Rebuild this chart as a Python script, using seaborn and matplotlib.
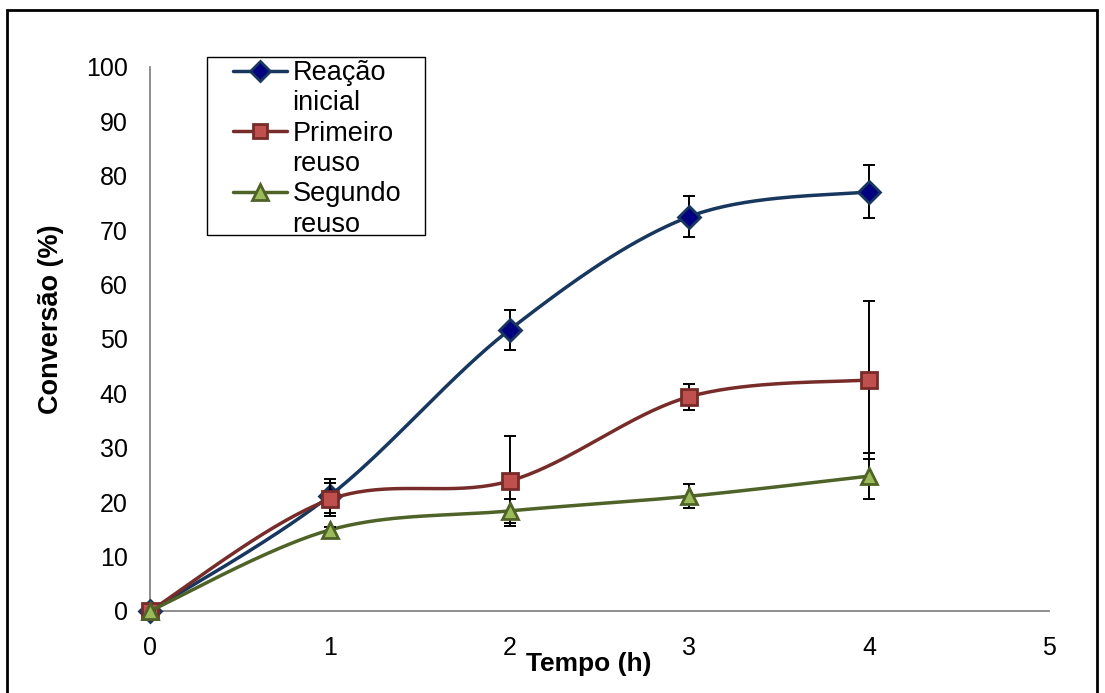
import numpy as np
import pandas as pd
import matplotlib
matplotlib.use("Agg")
import matplotlib.pyplot as plt
from matplotlib.lines import Line2D
from matplotlib.patches import Rectangle
import seaborn as sns

# Conversion (%) versus time (h) for the initial reaction and two reuse cycles
tempo = [0, 1, 2, 3, 4]
reacao_inicial = [0.0, 21.2, 51.7, 72.5, 77.1]
reacao_inicial_err = [0.0, 3.1, 3.7, 3.7, 4.9]
primeiro_reuso = [0.0, 20.5, 23.9, 39.4, 42.5]
primeiro_reuso_err = [0.0, 3.0, 8.3, 2.4, 14.5]
segundo_reuso = [0.0, 14.9, 18.4, 21.1, 24.8]
segundo_reuso_err = [0.0, 0.6, 2.2, 2.2, 4.2]

series_names = ["Reação inicial", "Primeiro reuso", "Segundo reuso"]
legend_lines = [["Reação", "inicial"], ["Primeiro", "reuso"], ["Segundo", "reuso"]]
x_ticks = [0, 1, 2, 3, 4, 5]
y_ticks = [0, 10, 20, 30, 40, 50, 60, 70, 80, 90, 100]

styles = {
    "Reação inicial": dict(line="#17375E", face="#000080", edge="#17375E", marker="D", ms=11),
    "Primeiro reuso": dict(line="#772C2A", face="#C0504D", edge="#772C2A", marker="s", ms=11.5),
    "Segundo reuso": dict(line="#4F6228", face="#9BBB59", edge="#4F6228", marker="^", ms=12),
}


def smooth_curve(x, y, n=40):
    """Bezier smoothing through every point (Catmull-Rom style tangents)."""
    x = np.asarray(x, float)
    y = np.asarray(y, float)
    pts = np.column_stack([x, y])
    out = []
    for i in range(len(pts) - 1):
        p0 = pts[max(i - 1, 0)]
        p1 = pts[i]
        p2 = pts[i + 1]
        p3 = pts[min(i + 2, len(pts) - 1)]
        c1 = p1 + (p2 - p0) / 6.0
        c2 = p2 - (p3 - p1) / 6.0
        t = np.linspace(0, 1, n)[:, None]
        seg = ((1 - t) ** 3) * p1 + 3 * ((1 - t) ** 2) * t * c1 + 3 * (1 - t) * t ** 2 * c2 + t ** 3 * p2
        if i > 0:
            seg = seg[1:]
        out.append(seg)
    out = np.vstack(out)
    return out[:, 0], out[:, 1]


sns.set_theme(style="white")
plt.rcParams["font.family"] = ["Liberation Sans", "DejaVu Sans"]
plt.rcParams["text.color"] = "black"
plt.rcParams["axes.labelcolor"] = "black"

W, H = 1105, 693
fig = plt.figure(figsize=(W / 100, H / 100), dpi=100)
ax = fig.add_axes([150 / W, 1 - 611 / H, (1049 - 150) / W, (611 - 67) / H])

values = {
    "Reação inicial": (reacao_inicial, reacao_inicial_err),
    "Primeiro reuso": (primeiro_reuso, primeiro_reuso_err),
    "Segundo reuso": (segundo_reuso, segundo_reuso_err),
}

for k, name in enumerate(series_names):
    y, err = values[name]
    st = styles[name]
    sx, sy = smooth_curve(tempo, y)
    curve = pd.DataFrame({"Tempo": sx, "Conversao": sy})
    sns.lineplot(data=curve, x="Tempo", y="Conversao", ax=ax, sort=False,
                 color=st["line"], linewidth=2.5, zorder=3 + k)
    ax.errorbar(tempo, y, yerr=err, fmt="none", ecolor="black", elinewidth=1.4,
                capsize=4.5, capthick=1.4, zorder=3 + k)
    ax.plot(tempo, y, linestyle="none", marker=st["marker"], markersize=st["ms"],
            markerfacecolor=st["face"], markeredgecolor=st["edge"],
            markeredgewidth=2.0, zorder=3.5 + k, clip_on=False)

ax.set_xlim(0, 5)
ax.set_ylim(0, 100)
ax.set_xticks(x_ticks)
ax.set_yticks(y_ticks)
ax.tick_params(axis="both", labelsize=18, direction="out", length=6, width=1.2,
               color="#868686", labelcolor="black")
ax.tick_params(axis="x", pad=12)
ax.tick_params(axis="y", pad=10)
for side in ("top", "right"):
    ax.spines[side].set_visible(False)
for side in ("left", "bottom"):
    ax.spines[side].set_color("#868686")
    ax.spines[side].set_linewidth(1.3)
ax.grid(False)

ax.set_xlabel("Tempo (h)", fontsize=19, fontweight="bold", color="black")
ax.set_ylabel("Conversão (%)", fontsize=19.5, fontweight="bold", color="black")
ax.xaxis.set_label_coords(0.488, -0.075)
ax.yaxis.set_label_coords(-0.0957, 0.537)

# Legend: each label spans two lines, the handle sits on the first line
handles, labels = [], []
for name, parts in zip(series_names, legend_lines):
    st = styles[name]
    handles.append(Line2D([], [], color=st["line"], linewidth=2.5, marker=st["marker"],
                          markersize=st["ms"] - 1, markerfacecolor=st["face"],
                          markeredgecolor=st["edge"], markeredgewidth=2.0))
    labels.append(parts[0])
    handles.append(Line2D([], [], linestyle="none", marker=None))
    labels.append(parts[1])
leg = fig.legend(handles, labels, loc="upper left", bbox_to_anchor=(233 / W, 1 - 60 / H),
                 frameon=False, fontsize=19.5, handlelength=2.0, labelcolor="black",
                 handletextpad=0.2, labelspacing=0.16, borderpad=0.0, borderaxespad=0)

# Legend box
fig.patches.append(Rectangle((207 / W, 1 - 235 / H), (425 - 207) / W, (235 - 57) / H,
                             transform=fig.transFigure, fill=False, edgecolor="black",
                             linewidth=1.0, zorder=10))

# Outer chart border
fig.patches.append(Rectangle((7 / W, -0.05), (1097 - 7) / W, 1.05 - 10 / H,
                             transform=fig.transFigure, fill=False, edgecolor="black",
                             linewidth=2.0))

fig.savefig("out.png", dpi=100)
